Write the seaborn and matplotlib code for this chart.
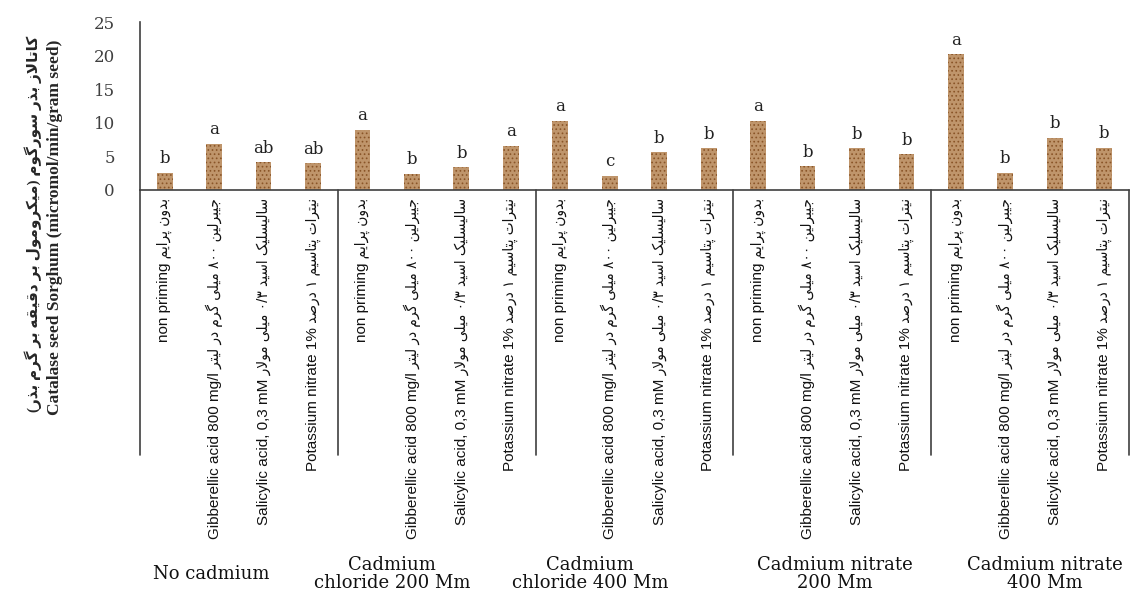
import re
import numpy as np
import pandas as pd
import matplotlib
matplotlib.use('Agg')
import matplotlib.pyplot as plt
import matplotlib.transforms as mtrans
from matplotlib import font_manager
import seaborn as sns

GROUPS = ['No cadmium', 'Cadmium\nchloride 200 Mm', 'Cadmium\nchloride 400 Mm',
          'Cadmium nitrate\n200 Mm', 'Cadmium nitrate\n400 Mm']
TREAT_EN = ['non priming', 'Gibberellic acid 800 mg/l',
            'Salicylic acid, 0,3 mM', 'Potassium nitrate 1%']
TREAT_FA = ['بدون پرایم', 'جیبرلین ۸۰۰ میلی گرم در لیتر',
            'سالیسلیک اسید ۰/۳ میلی مولار', 'نیترات پتاسیم ۱ درصد']
CATALASE = [2.6, 6.9, 4.1, 4.0,
            9.0, 2.4, 3.4, 6.6,
            10.3, 2.1, 5.6, 6.2,
            10.3, 3.5, 6.2, 5.3,
            20.2, 2.6, 7.8, 6.3]
LETTERS = ['b', 'a', 'ab', 'ab',
           'a', 'b', 'b', 'a',
           'a', 'c', 'b', 'b',
           'a', 'b', 'b', 'b',
           'a', 'b', 'b', 'b']
YLABEL_FA = 'کاتالاز بذر سورگوم (میکرومول بر دقیقه بر گرم بذر)'
YLABEL_EN = 'Catalase seed Sorghum (micromol/min/gram seed)'

# matplotlib does not shape arabic script -> presentation forms + visual order by hand
FA_FORMS = {
    'ا': ('\uFE8D', '\uFE8E', None, None),
    'ب': ('\uFE8F', '\uFE90', '\uFE91', '\uFE92'),
    'پ': ('\uFB56', '\uFB57', '\uFB58', '\uFB59'),
    'ت': ('\uFE95', '\uFE96', '\uFE97', '\uFE98'),
    'ج': ('\uFE9D', '\uFE9E', '\uFE9F', '\uFEA0'),
    'د': ('\uFEA9', '\uFEAA', None, None),
    'ذ': ('\uFEAB', '\uFEAC', None, None),
    'ر': ('\uFEAD', '\uFEAE', None, None),
    'ز': ('\uFEAF', '\uFEB0', None, None),
    'س': ('\uFEB1', '\uFEB2', '\uFEB3', '\uFEB4'),
    'ص': ('\uFEB9', '\uFEBA', '\uFEBB', '\uFEBC'),
    'ق': ('\uFED5', '\uFED6', '\uFED7', '\uFED8'),
    'ک': ('\uFB8E', '\uFB8F', '\uFB90', '\uFB91'),
    'گ': ('\uFB92', '\uFB93', '\uFB94', '\uFB95'),
    'ل': ('\uFEDD', '\uFEDE', '\uFEDF', '\uFEE0'),
    'م': ('\uFEE1', '\uFEE2', '\uFEE3', '\uFEE4'),
    'ن': ('\uFEE5', '\uFEE6', '\uFEE7', '\uFEE8'),
    'ه': ('\uFEE9', '\uFEEA', '\uFEEB', '\uFEEC'),
    'و': ('\uFEED', '\uFEEE', None, None),
    'ی': ('\uFBFC', '\uFBFD', '\uFBFE', '\uFBFF'),
}
MIRROR = {'(': ')', ')': '('}


def fa_visual(s):
    out = []
    i = 0
    while i < len(s):
        c = s[i]
        if c not in FA_FORMS:
            out.append(c)
            i += 1
            continue
        prev = s[i - 1] if i > 0 else ''
        nxt = s[i + 1] if i + 1 < len(s) else ''
        joined_prev = prev in FA_FORMS and FA_FORMS[prev][2] is not None
        if c == 'ل' and nxt == 'ا':
            out.append('\uFEFC' if joined_prev else '\uFEFB')
            i += 2
            continue
        iso, fin, ini, med = FA_FORMS[c]
        joins_next = ini is not None and nxt in FA_FORMS
        if joined_prev and joins_next:
            out.append(med)
        elif joined_prev:
            out.append(fin)
        elif joins_next:
            out.append(ini)
        else:
            out.append(iso)
        i += 1
    tokens = re.findall(r'[\u06F0-\u06F90-9/]+|.', ''.join(out))
    return ''.join(MIRROR.get(t, t) for t in reversed(tokens))


names = {f.name for f in font_manager.fontManager.ttflist}
NARROW = 'Liberation Sans Narrow' if 'Liberation Sans Narrow' in names else 'Liberation Sans'

n_t = len(TREAT_EN)
df = pd.DataFrame({
    'bar': [f'{g}|{t}' for g in GROUPS for t in TREAT_EN],
    'value': CATALASE,
})
tick_labels = [f'{en} {fa_visual(fa)}' for _ in GROUPS for en, fa in zip(TREAT_EN, TREAT_FA)]

sns.set_theme(style='white')
plt.rcParams['font.family'] = ['DejaVu Serif']
plt.rcParams['hatch.linewidth'] = 0.7

fig = plt.figure(figsize=(11.36, 5.9), dpi=100)
ax = fig.add_axes([0.1232, 0.678, 0.8706, 0.2847])

sns.barplot(data=df, x='bar', y='value', order=list(df['bar']), color='#cd955d',
            width=0.32, ax=ax)
for p in ax.patches:
    p.set_hatch('....')
    p.set_edgecolor('#8a5528')
    p.set_linewidth(0)

for p, letter in zip(ax.patches, LETTERS):
    ax.annotate(letter, (p.get_x() + p.get_width() / 2, p.get_height()),
                xytext=(0, 4), textcoords='offset points', ha='center', va='bottom',
                fontsize=12, family='DejaVu Serif', color='#222222')

ax.set_xlim(-0.5, len(CATALASE) - 0.5)
ax.set_ylim(0, 25)
ax.set_yticks([0, 5, 10, 15, 20, 25])
ax.tick_params(axis='y', length=0, pad=18, labelsize=12, labelcolor='#404040')
ax.tick_params(axis='x', length=0, pad=6)
ax.set_xticks(range(len(CATALASE)))
ax.set_xticklabels(tick_labels, rotation=90, va='top', ha='center', fontsize=11,
                   family=[NARROW, 'DejaVu Sans'], fontstretch='condensed',
                   color='#111111')
ax.set_xlabel('')
ax.set_ylabel('')

for side in ['top', 'right']:
    ax.spines[side].set_visible(False)
for side in ['left', 'bottom']:
    ax.spines[side].set_color('#404040')
    ax.spines[side].set_linewidth(1.2)

# group separators running down through the category labels
trans = mtrans.blended_transform_factory(ax.transData, ax.transAxes)
for k in range(len(GROUPS) + 1):
    xb = k * n_t - 0.5
    ax.plot([xb, xb], [0, -1.58], transform=trans, clip_on=False,
            color='#404040', lw=1.2)

# group names under the treatment labels
GROUP_SHIFT = [-0.55, -0.9, -0.9, 0.05, 0.3]
gtrans = mtrans.blended_transform_factory(ax.transData, fig.transFigure)
for k, g in enumerate(GROUPS):
    ax.text(k * n_t + (n_t - 1) / 2 + GROUP_SHIFT[k], 0.027, g, transform=gtrans,
            ha='center', va='center', fontsize=13, family='DejaVu Serif',
            linespacing=1.0, color='#111111')

fig.text(0.029, 0.62, fa_visual(YLABEL_FA), rotation=90, ha='center', va='center',
         fontsize=11, fontweight='bold', family=['Liberation Serif', 'DejaVu Sans'])
fig.text(0.048, 0.614, YLABEL_EN, rotation=90, ha='center', va='center',
         fontsize=12.5, fontweight='bold', family=['Liberation Serif', 'DejaVu Sans'])

fig.savefig('out.png', dpi=100)
